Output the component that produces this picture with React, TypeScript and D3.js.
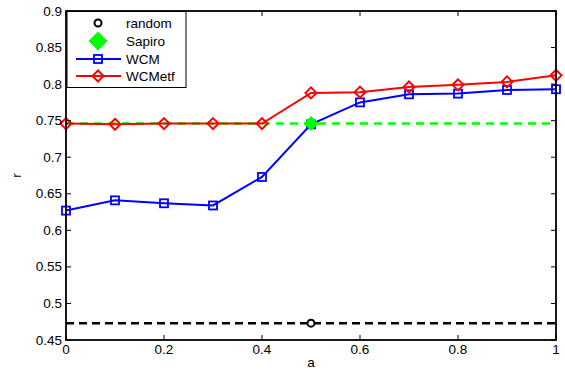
import React, { useEffect, useRef } from 'react';
import * as d3 from 'd3';

const width = 565;
const height = 371;
const margin = { top: 11, right: 9, bottom: 31, left: 66 };

const aValues = [0, 0.1, 0.2, 0.3, 0.4, 0.5, 0.6, 0.7, 0.8, 0.9, 1];
const wcm = [0.627, 0.641, 0.637, 0.634, 0.673, 0.745, 0.775, 0.786, 0.787, 0.792, 0.793];
const wcmetf = [0.746, 0.745, 0.746, 0.746, 0.746, 0.788, 0.789, 0.796, 0.799, 0.803, 0.812];
const sapiro = 0.746;
const randomR = 0.473;
const pointA = 0.5;
const xTicks = [0, 0.2, 0.4, 0.6, 0.8, 1];
const yTicks = [0.45, 0.5, 0.55, 0.6, 0.65, 0.7, 0.75, 0.8, 0.85, 0.9];
const legendNames = ['random', 'Sapiro', 'WCM', 'WCMetf'];

const font = 'Liberation Sans, Arial, sans-serif';
const fs = 13.5;

const App = () => {
  const svgRef = useRef<SVGSVGElement>(null);

  useEffect(() => {
    const svg = d3.select(svgRef.current);
    svg.selectAll('*').remove();

    const x = d3.scaleLinear().domain([0, 1]).range([margin.left, width - margin.right]);
    const y = d3.scaleLinear().domain([0.45, 0.9]).range([height - margin.bottom, margin.top]);

    svg.append('rect').attr('width', width).attr('height', height).attr('fill', '#fff');

    // reference dashed lines
    svg.append('line')
      .attr('x1', x(0)).attr('x2', x(1))
      .attr('y1', y(randomR)).attr('y2', y(randomR))
      .attr('stroke', '#000').attr('stroke-width', 2.5).attr('stroke-dasharray', '8,5');
    svg.append('line')
      .attr('x1', x(0)).attr('x2', x(1))
      .attr('y1', y(sapiro)).attr('y2', y(sapiro))
      .attr('stroke', '#00ff00').attr('stroke-width', 2.5).attr('stroke-dasharray', '8,6');

    const line = d3.line<number>().x((_, i) => x(aValues[i])).y(d => y(d));

    // WCM
    svg.append('path').datum(wcm)
      .attr('fill', 'none').attr('stroke', '#0000ff').attr('stroke-width', 2).attr('d', line);
    svg.selectAll('.sq').data(wcm).enter().append('rect')
      .attr('x', (_, i) => x(aValues[i]) - 4).attr('y', d => y(d) - 4)
      .attr('width', 8).attr('height', 8)
      .attr('fill', 'none').attr('stroke', '#0000ff').attr('stroke-width', 1.8);

    // Sapiro point
    const diamond = (cx: number, cy: number, r: number) =>
      `M${cx},${cy - r}L${cx + r},${cy}L${cx},${cy + r}L${cx - r},${cy}Z`;
    svg.append('path').attr('d', diamond(x(pointA), y(sapiro), 7.5)).attr('fill', '#00ff00');

    // WCMetf
    svg.append('path').datum(wcmetf)
      .attr('fill', 'none').attr('stroke', '#ff0000').attr('stroke-width', 2).attr('d', line);
    svg.selectAll('.dm').data(wcmetf).enter().append('path')
      .attr('d', (d, i) => diamond(x(aValues[i]), y(d), 5.5))
      .attr('fill', 'none').attr('stroke', '#ff0000').attr('stroke-width', 2);

    // random point
    svg.append('circle').attr('cx', x(pointA)).attr('cy', y(randomR)).attr('r', 3.5)
      .attr('fill', '#fff').attr('stroke', '#000').attr('stroke-width', 2);

    // frame
    svg.append('rect')
      .attr('x', x(0)).attr('y', y(0.9))
      .attr('width', x(1) - x(0)).attr('height', y(0.45) - y(0.9))
      .attr('fill', 'none').attr('stroke', '#000').attr('stroke-width', 1.8);

    // ticks inside
    const tl = 5;
    xTicks.forEach(t => {
      svg.append('line').attr('x1', x(t)).attr('x2', x(t)).attr('y1', y(0.45)).attr('y2', y(0.45) - tl)
        .attr('stroke', '#000').attr('stroke-width', 1);
      svg.append('line').attr('x1', x(t)).attr('x2', x(t)).attr('y1', y(0.9)).attr('y2', y(0.9) + tl)
        .attr('stroke', '#000').attr('stroke-width', 1);
      svg.append('text').attr('x', x(t)).attr('y', y(0.45) + 14)
        .attr('text-anchor', 'middle').attr('font-family', font).attr('font-size', fs)
        .text(d3.format('~g')(t));
    });
    yTicks.forEach(t => {
      svg.append('line').attr('x1', x(0)).attr('x2', x(0) + tl).attr('y1', y(t)).attr('y2', y(t))
        .attr('stroke', '#000').attr('stroke-width', 1);
      svg.append('line').attr('x1', x(1)).attr('x2', x(1) - tl).attr('y1', y(t)).attr('y2', y(t))
        .attr('stroke', '#000').attr('stroke-width', 1);
      svg.append('text').attr('x', x(0) - 4).attr('y', y(t) + 4.5)
        .attr('text-anchor', 'end').attr('font-family', font).attr('font-size', fs)
        .text(d3.format('~g')(t));
    });

    svg.append('text').attr('x', (x(0) + x(1)) / 2).attr('y', height - 4)
      .attr('text-anchor', 'middle').attr('font-family', font).attr('font-size', fs).text('a');
    svg.append('text').attr('transform', `translate(21,${(y(0.45) + y(0.9)) / 2}) rotate(-90)`)
      .attr('text-anchor', 'middle').attr('font-family', font).attr('font-size', fs).text('r');

    // legend
    const lg = svg.append('g');
    lg.append('rect').attr('x', 67).attr('y', 11.5).attr('width', 119).attr('height', 76)
      .attr('fill', '#fff').attr('stroke', '#000').attr('stroke-width', 1);
    const ly = [23, 41, 59, 76];
    const mx = 98;
    legendNames.forEach((name, i) => {
      const yy = ly[i];
      if (i === 0) {
        lg.append('circle').attr('cx', mx).attr('cy', yy).attr('r', 3.5)
          .attr('fill', '#fff').attr('stroke', '#000').attr('stroke-width', 2);
      } else if (i === 1) {
        lg.append('path').attr('d', diamond(mx, yy, 9.5)).attr('fill', '#00ff00');
      } else {
        const c = i === 2 ? '#0000ff' : '#ff0000';
        lg.append('line').attr('x1', 76).attr('x2', 121).attr('y1', yy).attr('y2', yy)
          .attr('stroke', c).attr('stroke-width', 2);
        if (i === 2) {
          lg.append('rect').attr('x', mx - 4).attr('y', yy - 4).attr('width', 8).attr('height', 8)
            .attr('fill', 'none').attr('stroke', c).attr('stroke-width', 1.8);
        } else {
          lg.append('path').attr('d', diamond(mx, yy, 5.5))
            .attr('fill', 'none').attr('stroke', c).attr('stroke-width', 2);
        }
      }
      lg.append('text').attr('x', 126).attr('y', yy + 5)
        .attr('font-family', font).attr('font-size', fs).text(name);
    });
  }, []);

  return (
    <svg ref={svgRef} width={width} height={height} style={{ position: 'absolute', left: 0, top: 0 }} />
  );
};

export default App;
